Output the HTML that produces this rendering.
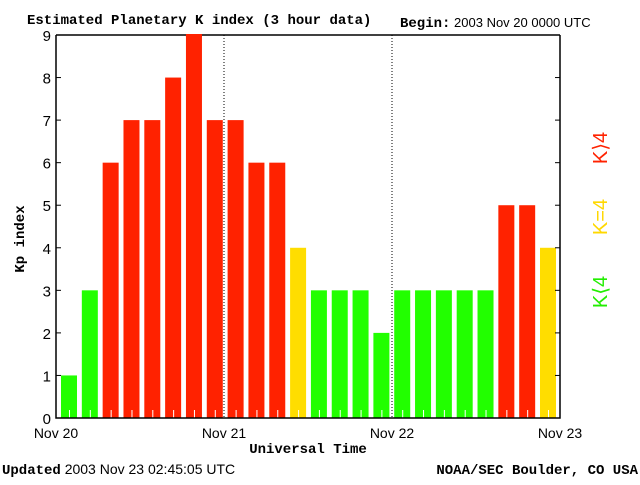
<!DOCTYPE html>
<html><head><meta charset="utf-8"><style>
body{margin:0;background:#fff;width:640px;height:480px;overflow:hidden}
svg text{font-family:"Liberation Sans",sans-serif}
.m{font-family:"Liberation Mono","DejaVu Sans Mono",monospace;font-weight:bold}
</style></head><body>
<svg id="c" width="640" height="480" xmlns="http://www.w3.org/2000/svg">
<text class="m" x="27" y="24" font-size="14">Estimated Planetary K index (3 hour data)</text>
<text x="400" y="27" font-size="13"><tspan class="m" font-size="14">Begin:</tspan> 2003 Nov 20 0000 UTC</text>
<g id="plot"></g>
<text class="m" x="11" y="226" font-size="14" transform="rotate(-90 24 226)" text-anchor="middle">Kp index</text>
<text class="m" x="308" y="453" font-size="14" text-anchor="middle">Universal Time</text>
<text x="2" y="474" font-size="14"><tspan class="m">Updated</tspan> 2003 Nov 23 02:45:05 UTC</text>
<text class="m" x="638" y="474" font-size="14" text-anchor="end">NOAA/SEC Boulder, CO USA</text>
<text x="607" y="148" font-size="20" fill="#ff2200" text-anchor="middle" transform="rotate(-90 607 148)">K⟩4</text>
<text x="607" y="217" font-size="20" fill="#ffd800" text-anchor="middle" transform="rotate(-90 607 217)">K=4</text>
<text x="607" y="292" font-size="20" fill="#22ee00" text-anchor="middle" transform="rotate(-90 607 292)">K⟨4</text>
</svg>
<script>
const kpValues=[1,3,6,7,7,8,9,7,7,6,6,4,3,3,3,2,3,3,3,3,3,5,5,4];
const yTicks=[0,1,2,3,4,5,6,7,8,9];
const dayLabels=["Nov 20","Nov 21","Nov 22","Nov 23"];
const NS="http://www.w3.org/2000/svg";
const L=56,R=560,T=35,B=418,slot=(R-L)/kpValues.length;
const ys=v=>B-(v/9)*(B-T);
const xs=i=>L+i*slot;
const bx=i=>61+i*(540-61)/(kpValues.length-1);
const g=document.getElementById('plot');
function mk(t,a){const e=document.createElementNS(NS,t);for(const k in a)e.setAttribute(k,a[k]);g.appendChild(e);return e;}
[1,2].forEach(d=>{const x=xs(d*8);const l=mk('line',{x1:x,x2:x,y1:T,y2:B,stroke:'#000','stroke-dasharray':'1,2'});

});
kpValues.forEach((v,i)=>{
 const c=v<4?'#22ff00':(v==4?'#ffdd00':'#ff2200');
 const r=mk('rect',{x:bx(i),y:ys(v),width:16,height:B-ys(v),fill:c});
 
 
 const t=mk('line',{x1:bx(i)+8.5,x2:bx(i)+8.5,y1:B-8,y2:B,stroke:'#fff'});
 
 
});
let e=mk('path',{d:`M${L},${T}V${B}H${R}V${T}`,fill:'none',stroke:'#000','stroke-width':1.5});


let tl=mk('line',{x1:L,x2:R,y1:T,y2:T,stroke:'#000','stroke-width':1.5});


kpValues.forEach((v,i)=>{if(v>=9){const r=mk('rect',{x:bx(i),y:T-1,width:16,height:3,fill:'#ff2200'});
 
 }});
yTicks.forEach(v=>{const y=ys(v);
 const a=mk('line',{x1:L,x2:L+5,y1:y,y2:y,stroke:'#000'});
 
 
 const b=mk('line',{x1:R-5,x2:R,y1:y,y2:y,stroke:'#000'});
 
 
 const t=mk('text',{x:L-5,y:y+6,'font-size':15,'text-anchor':'end'});t.textContent=v;
 
 
});
dayLabels.forEach((d,i)=>{const t=mk('text',{x:xs(i*8),y:438,'font-size':14,'text-anchor':'middle'});t.textContent=d;
 
 });
</script>
</body></html>
